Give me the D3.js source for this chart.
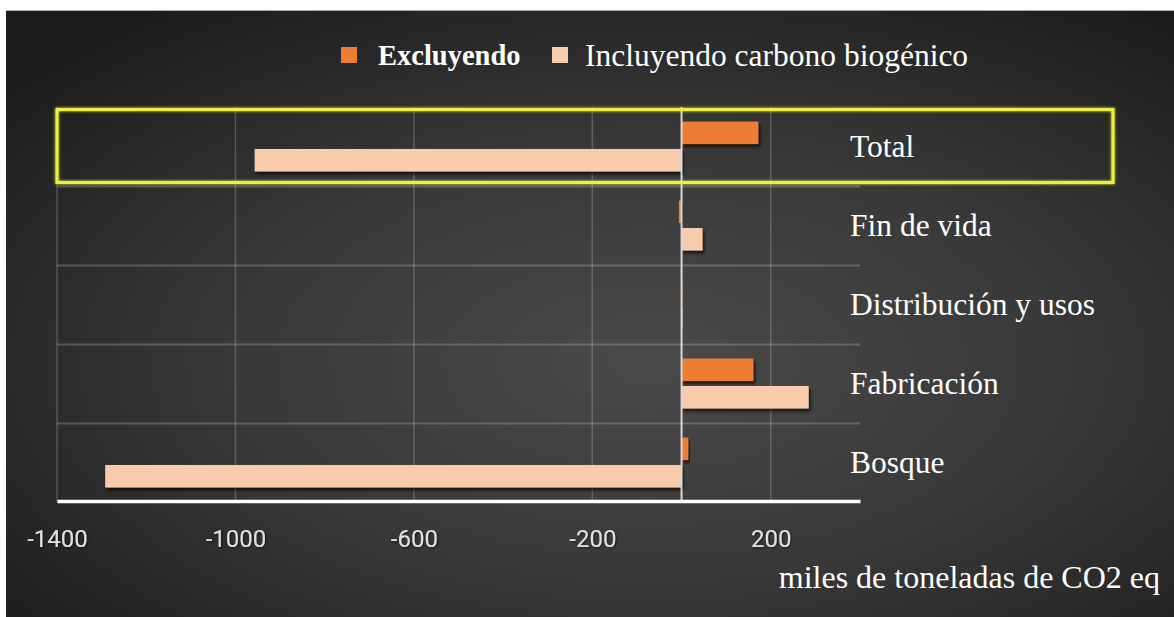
<!DOCTYPE html>
<html><head><meta charset="utf-8">
<script src="https://cdn.jsdelivr.net/npm/d3@7"></script>
<style>html,body{margin:0;padding:0;background:#fff;}svg{display:block;}</style>
</head><body>
<svg id="c" width="1174" height="617"></svg>
<script>
const categories = ["Total", "Fin de vida", "Distribución y usos", "Fabricación", "Bosque"];
const seriesNames = ["Excluyendo", "Incluyendo carbono biogénico"];
const excluyendo = [172, -6, 2, 161, 15];
const incluyendo = [-957, 47, 2, 285, -1292];
const tickValues = [-1400, -1000, -600, -200, 200];
const axisTitle = "miles de toneladas de CO2 eq";
const colors = ["#ed7d31", "#f8cbad"];

const svg = d3.select("#c");
const defs = svg.append("defs");
const rg = defs.append("radialGradient").attr("id","bg").attr("cx","55%").attr("cy","58%").attr("r","72%");
rg.append("stop").attr("offset","0%").attr("stop-color","#4a4a4a");
rg.append("stop").attr("offset","50%").attr("stop-color","#383838");
rg.append("stop").attr("offset","100%").attr("stop-color","#1c1c1c");
const f = defs.append("filter").attr("id","sh").attr("x","-10%").attr("y","-30%").attr("width","130%").attr("height","180%");
f.append("feDropShadow").attr("dx",2).attr("dy",3).attr("stdDeviation",1.8).attr("flood-color","#000").attr("flood-opacity",0.65);
const tf = defs.append("filter").attr("id","tsh").attr("x","-10%").attr("y","-30%").attr("width","130%").attr("height","180%");
tf.append("feDropShadow").attr("dx",1).attr("dy",1).attr("stdDeviation",1).attr("flood-color","#000").attr("flood-opacity",0.6);
const gl = defs.append("filter").attr("id","glow").attr("x","-5%").attr("y","-20%").attr("width","110%").attr("height","140%");
gl.append("feGaussianBlur").attr("stdDeviation",1.5).attr("result","b");
const fm = gl.append("feMerge"); fm.append("feMergeNode").attr("in","b"); fm.append("feMergeNode").attr("in","SourceGraphic");

// background
svg.append("rect").attr("x",6).attr("y",11).attr("width",1168).attr("height",606).attr("fill","url(#bg)");
svg.append("line").attr("x1",6).attr("x2",1174).attr("y1",10.5).attr("y2",10.5).attr("stroke","#aaa").attr("stroke-width",1);

const x = d3.scaleLinear().domain([-1400, 400]).range([57, 860]);
const y = d3.scaleBand().domain(categories).range([107, 502]);
const ys = d3.scaleBand().domain(seriesNames).range([0, y.bandwidth()]).paddingInner(0.18).paddingOuter(0.53);

// grid
const g = svg.append("g");
g.selectAll(".hg").data(categories.slice(1)).join("line")
  .attr("x1", x(-1400)).attr("x2", x(400))
  .attr("y1", d => y(d) + 0.5).attr("y2", d => y(d) + 0.5)
  .attr("stroke", "rgba(255,255,255,0.2)").attr("stroke-width", 2);
g.selectAll(".vg").data(tickValues).join("line")
  .attr("x1", d => x(d)).attr("x2", d => x(d))
  .attr("y1", 107).attr("y2", 502)
  .attr("stroke", "rgba(255,255,255,0.2)").attr("stroke-width", 1.5);

// bars
const data = [excluyendo, incluyendo];
data.forEach((vals, si) => {
  svg.append("g").selectAll("rect").data(vals).join("rect")
    .attr("x", d => x(Math.min(0, d)))
    .attr("width", d => Math.abs(x(d) - x(0)))
    .attr("y", (d, i) => y(categories[i]) + ys(seriesNames[si]))
    .attr("height", ys.bandwidth())
    .attr("fill", colors[si])
    .attr("filter", "url(#sh)");
});

// zero line
svg.append("line").attr("x1", x(0)).attr("x2", x(0)).attr("y1", 107).attr("y2", 502)
  .attr("stroke", "#d8d8d8").attr("stroke-width", 2);

// x axis
const ax = svg.append("g").attr("transform", "translate(0,501)")
  .call(d3.axisBottom(x).tickValues(tickValues).tickSize(0).tickPadding(29).tickFormat(d => String(d)));
ax.select(".domain").attr("stroke", "#ffffff").attr("stroke-width", 3.5);
ax.selectAll("text").attr("fill", "#e2e2e2").attr("font-family", "Roboto,sans-serif")
  .attr("font-size", 24).attr("dy", "0.71em").attr("filter","url(#tsh)");

// category labels
svg.append("g").selectAll("text").data(categories).join("text")
  .attr("x", 850).attr("y", d => y(d) + y.bandwidth() / 2)
  .attr("dy", "0.33em")
  .attr("fill", "#ffffff").attr("font-family", "'Liberation Serif','Times New Roman',serif").attr("font-size", 31.5)
  .text(d => d);

// axis title
svg.append("text").attr("x", 1160).attr("y", 577).attr("dy", "0.35em").attr("text-anchor", "end")
  .attr("fill", "#ffffff").attr("font-family", "'Liberation Serif','Times New Roman',serif").attr("font-size", 32)
  .text(axisTitle);

// highlight box on Total
svg.append("rect").attr("x", 57).attr("y", 109.5).attr("width", 1113 - 57).attr("height", 73)
  .attr("fill", "none").attr("stroke", "#eef03a").attr("stroke-width", 3).attr("filter","url(#glow)");

// legend
const leg = svg.append("g");
const legItems = [{name: seriesNames[0], color: colors[0], bold: true, sx: 341, tx: 378, fs: 28.5},
                  {name: seriesNames[1], color: colors[1], bold: false, sx: 552, tx: 585, fs: 31.5}];
legItems.forEach(it => {
  leg.append("rect").attr("x", it.sx).attr("y", 47).attr("width", 16).attr("height", 16).attr("fill", it.color);
  leg.append("text").attr("x", it.tx).attr("y", 55).attr("dy", "0.35em")
    .attr("fill", "#ffffff").attr("font-family", "'Liberation Serif','Times New Roman',serif")
    .attr("font-size", it.fs).attr("font-weight", it.bold ? "bold" : "normal").text(it.name);
});
</script>
</body></html>
